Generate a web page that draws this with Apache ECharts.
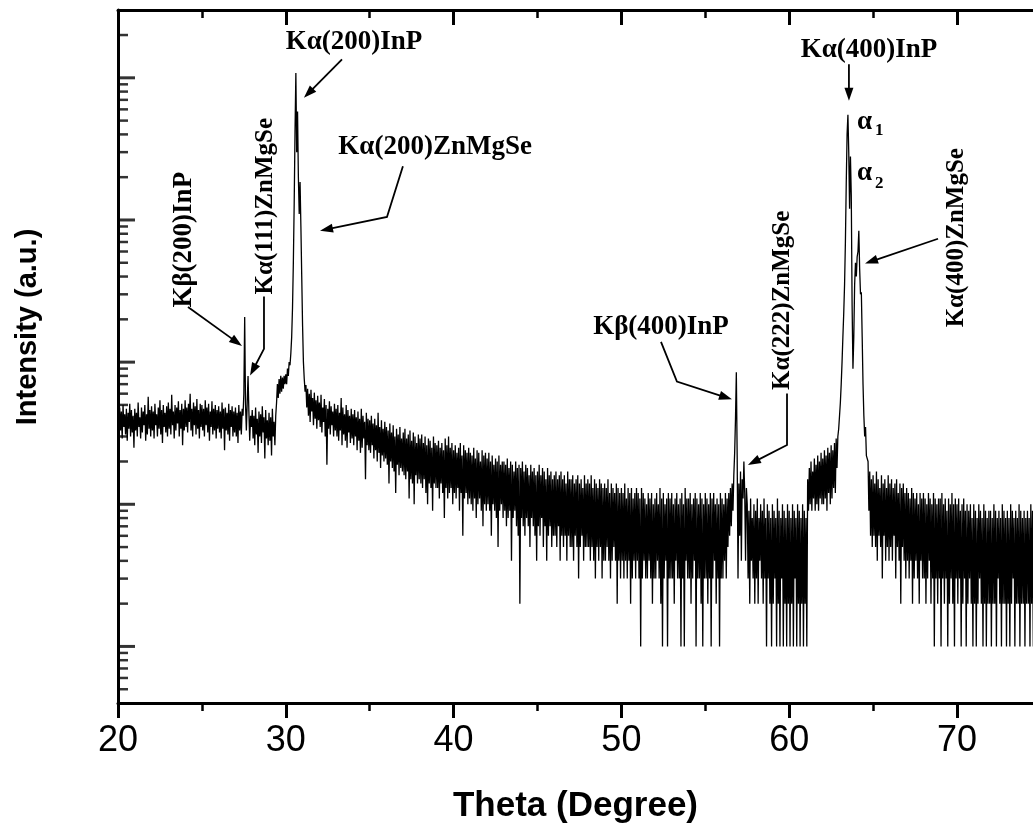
<!DOCTYPE html>
<html><head><meta charset="utf-8">
<script src="https://cdn.jsdelivr.net/npm/echarts@6/dist/echarts.min.js"></script>
<style>html,body{margin:0;padding:0;background:#fff}#c{width:1033px;height:829px}</style>
</head><body><div id="c"></div>
<script>
// ---- scan data (theta in degrees, intensity in counts) ----
// each block: start angle, step, counts
const bgLowStart = 20.0, bgLowStep = 0.05;
const bgLowCounts = [
 420,300,480,330,450,290,500,350,430,310,470,280,440,340,510,300,460,320,420,250,
 470,330,440,300,520,350,410,290,480,320,450,360,500,280,430,310,570,340,460,300,
 490,330,450,290,510,360,430,300,480,340,540,310,460,270,500,350,440,320,490,300,
 520,340,470,310,590,360,450,290,500,330,480,370,530,300,460,340,510,260,470,330,
 540,350,480,320,510,380,600,330,470,300,520,360,490,310,550,340,460,290,510,350,
 500,330,470,300,540,360,480,320,510,280,450,350,530,310,470,330,500,290,460,340,
 490,320,450,290,520,340,470,240,480,330,440,310,510,280,460,350,490,300,450,320,
 480,300,440,270,500,330,450,310,470];
const kb200Start = 27.45, kb200Step = 0.05;
const kb200Counts = [420,600,2080,500,330,520,800,450,280,420];
const preStart = 27.95, preStep = 0.05;
const preCounts = [350,
 460,290,420,260,480,310,400,230,450,300,430,270,490,320,410,210,460,290,390,260,
 440,280,410,220,470,300,380,260,420];
const ka200Start = 29.45, ka200Step = 0.05;
const ka200Counts = [520,700,560,760,600,800,620,780,650,800,700,820,700,900,800,1000,950,1150,
 1500,2400,5000,13000,42000,108000,30000,58000,20000,11000,18500,9000,4000,1800,1000];
const tailStart = 31.1, tailStep = 0.05;
const tailCounts = [760,620,690,480,650,420,600,380,640,450,560,360,610,400,540,340,580,390,
 520,350,590,320,480,380,550,300,500,190,470,340,530,310,490,360,450,300,510,330,
 470,300,500,280,440,330,560,260,480,310,430,280,500,250,460,320,420,270,470,290,
 430,260,460,300,410,240,450,280,400,230,470,250,420,290,380,150,440,260,400,240,
 390,230,420,260,370,210,400,240,360,200,440,230,350,180,390,220,340,200,380,210,
 350,190,330,140,370,200,320,180,360,170,300,120,340,190,310,160,350,180,290,170,
 320,160,340,150,290,170,310,110,330,150,280,140,320,100,300,160,270,140,310,150,
 290,140,310,130,270,150,300,120,260,100,290,140,280,130,250,90,300,140,270,130,
 260,130,280,110,250,140,270,120,240,80,290,130,260,110,300,120,250,130,270,100,
 240,120,260,110,230,130,250,90,270,120,220,60,260,110,240,120,230,100,250,110,
 230,100,220,90,250,110,210,80,240,100,230,110,200,90,240,70,220,100,230,90,
 210,100,230,90,200,60,220,100,190,90,210,80,200,50,220,90,190,100,200,80,
 200,90,190,70,210,80,180,90,200,40,190,80,170,90,200,70,180,60,190,20,
 180,80,200,70,170,60,190,80,180,70,160,50,190,80,170,70,180,60,160,40,
 170,70,190,60,160,80,180,50,170,70,150,40,180,60,160,70,170,50,150,60,
 160,60,170,50,150,70,160,40,170,60,150,50,160,60,140,40,170,60,150,50,
 150,50,160,40,140,60,150,50,160,30,140,50,150,60,130,40,160,50,140,50,
 150,50,140,40,160,50,130,40,150,30,140,50,130,40,150,50,140,30,130,40,
 140,40,130,50,150,40,120,30,140,40,130,50,120,40,140,20,130,40,120,30,
 130,40,120,30,140,40,110,30,130,40,120,20,130,30,110,40,120,30,130,40,
 120,30,110,10,130,30,120,40,110,30,100,30,120,40,110,30,120,20,100,30,
 110,30,120,40,100,30,130,20,110,10,120,30,100,40,110,10,120,30,110,30,
 120,30,100,20,110,40,120,30,100,30,110,10,120,30,100,10,130,40,110,30,
 110,30,120,20,100,30,110,40,120,10,110,30,100,30,120,20,110,10,100,30,
 120,30,110,20,100,30,120,10,110,30,120,40,100,20,110,30,100,10,120,30,
 110,30,100,40,120,30,110,50,120,60,130,70,140,90];
const kb400Start = 56.7, kb400Step = 0.05;
const kb400Counts = [160,230,400,850,220,30,140,60,170,40,150,110,200,120,40,130];
const midStart = 57.5, midStep = 0.05;
const midCounts = [100,30,90,20,110,40,80,30,100,20,
 90,30,110,20,80,40,100,30,90,20,110,30,80,10,100,30,90,20,80,10,
 100,20,90,30,80,10,110,20,90,10,80,30,100,10,90,20,80,10,100,20,
 90,10,80,20,100,10,90,30,80,10,100,20,90,10,80,20,100,10,90,20,
 80,10,150,90,180,100,200,90,170,110,210,90,190,100,220,90,200,110,230,100,
 210,100,240,110,220,90,250,120,230,100,260,110,240,130,270,120,290];
const ka400Start = 62.85, ka400Step = 0.05;
const ka400Counts = [180,300,340,420,520,700,1000,1500,2200,3500,7000,18000,40000,55000,30000,12000,
 28000,15000,2500,900,1500,3500,5000,4000,5500,6000,8400,4500,3000,3100,1500,700,420,300,350,220];
const endStart = 64.7, endStep = 0.05;
const endCounts = [200,90,170,60,150,50,
 160,60,140,50,170,40,150,60,130,50,160,30,140,60,150,40,130,50,160,40,
 140,50,150,40,130,60,140,30,150,50,120,40,140,20,130,50,140,40,120,30,
 130,40,120,30,110,40,130,20,120,30,110,40,120,30,100,20,120,40,110,30,
 120,30,110,20,100,30,120,40,110,20,100,30,120,10,110,30,100,20,110,30,
 110,10,120,30,100,20,110,30,90,10,110,20,100,30,120,20,100,10,110,30,
 100,20,110,30,90,10,100,20,110,30,90,10,100,20,90,30,100,20,80,10,
 100,20,90,10,80,20,100,30,90,20,80,10,100,20,90,10,80,20,90,20,
 90,10,80,20,100,20,90,10,80,30,90,20,80,10,100,20,90,20,80,10,
 90,20,80,10,100,20,90,30,80,10,90,20,80,20,100,10,90,20,80,20,
 90,10,80,20,90,20,80,10,100,20,90,10,80,20,90,20,80,10,90,20,
 80];

// axis ticks
const xMin = 20, xMax = 74.53, xStep = 10;
const xTickValues = [20,30,40,50,60,70];
const yMin = 4, yMax = 300000;
const yMajorTicks = [10,100,1000,10000,100000];
const yMinorTicks = [5,6,7,8,9,20,30,40,50,60,70,80,90,200,300,400,500,600,700,800,900,
 2000,3000,4000,5000,6000,7000,8000,9000,20000,30000,40000,50000,60000,70000,80000,90000,200000];

const xTitle = 'Theta (Degree)';
const yTitle = 'Intensity (a.u.)';

// ---- build the scan ----
const blocks = [
 [bgLowStart,bgLowStep,bgLowCounts],[kb200Start,kb200Step,kb200Counts],[preStart,preStep,preCounts],
 [ka200Start,ka200Step,ka200Counts],[tailStart,tailStep,tailCounts],[kb400Start,kb400Step,kb400Counts],
 [midStart,midStep,midCounts],[ka400Start,ka400Step,ka400Counts],[endStart,endStep,endCounts]
];
const scan = [];
blocks.forEach(([s,st,arr]) => arr.forEach((c,i) => scan.push([+(s + i*st).toFixed(3), c])));

// ---- annotations (anchors in data coordinates) ----
const serifH = 'bold 27px "Liberation Serif", "Times New Roman", serif';
const serifV = 'bold 25px "Liberation Serif", "Times New Roman", serif';
const notes = [
 {text:'Kα(200)InP', at:[34.06,177800], vertical:false},
 {text:'Kα(200)ZnMgSe', at:[38.9,32400], vertical:false},
 {text:'Kβ(200)InP', at:[23.93,7260], vertical:true, big:true},
 {text:'Kα(111)ZnMgSe', at:[28.82,12500], vertical:true},
 {text:'Kβ(400)InP', at:[52.36,1766], vertical:false},
 {text:'Kα(222)ZnMgSe', at:[59.63,2723], vertical:true},
 {text:'Kα(400)InP', at:[64.76,156300], vertical:false},
 {text:'Kα(400)ZnMgSe', at:[70.0,7500], vertical:true}
];
const arrows = [
 [[33.35,135000],[31.08,72300]],
 [[36.98,23900],[36.03,10500],[32.04,8400]],
 [[24.17,2440],[27.39,1300]],
 [[28.70,2900],[28.70,1240],[27.87,804]],
 [[52.36,1387],[53.31,730],[56.59,547]],
 [[59.87,601],[59.87,261],[57.54,189]],
 [[63.56,124700],[63.56,68900]],
 [[68.87,7380],[64.52,4940]]
];
const alphaNotes = [
 {main:'α', sub:'1', at:[64.04,49200], subAt:[65.11,42600]},
 {main:'α', sub:'2', at:[64.04,21300], subAt:[65.11,17900]}
];

const chart = echarts.init(document.getElementById('c'), null, {renderer:'canvas'});
const sans = '"Liberation Sans", Arial, sans-serif';
const xAxisCommon = {
 type:'value', min:xMin, max:xMax, interval:xStep,
 axisLine:{onZero:false, lineStyle:{color:'#000', width:3}},
 minorTick:{show:true, splitNumber:2, length:8, lineStyle:{color:'#000', width:2.5}},
 splitLine:{show:false}
};
const option = {
 animation:false,
 backgroundColor:'#fff',
 grid:{left:118, right:0, top:10, bottom:122, containLabel:false},
 xAxis:[
  Object.assign({}, xAxisCommon, {
   position:'bottom',
   axisTick:{inside:false, length:15, customValues:xTickValues, lineStyle:{color:'#000', width:3}},
   axisLabel:{fontSize:36, color:'#000', fontFamily:sans, margin:20, customValues:xTickValues},
   name:xTitle, nameLocation:'middle', nameGap:86,
   nameTextStyle:{fontSize:35, fontWeight:'bold', color:'#000', fontFamily:sans}
  }),
  Object.assign({}, xAxisCommon, {
   position:'top',
   axisTick:{inside:true, length:15, customValues:xTickValues, lineStyle:{color:'#000', width:3}},
   axisLabel:{show:false}
  })
 ],
 yAxis:{
  type:'log', logBase:10, min:yMin, max:yMax,
  axisLine:{onZero:false, lineStyle:{color:'#000', width:3}},
  axisTick:{show:false}, axisLabel:{show:false}, splitLine:{show:false}, minorTick:{show:false}
 },
 series:[
  {type:'line', data:scan, showSymbol:false, clip:true, silent:true,
   lineStyle:{color:'#000', width:1.3}, xAxisIndex:0, yAxisIndex:0, z:3},
  {type:'scatter', data:yMajorTicks.map(v=>[xMin,v]), symbol:'rect', symbolSize:[17,3],
   symbolOffset:[8.5,0], itemStyle:{color:'#000'}, clip:false, silent:true, z:5},
  {type:'scatter', data:yMinorTicks.map(v=>[xMin,v]), symbol:'rect', symbolSize:[10,2.5],
   symbolOffset:[5,0], itemStyle:{color:'#000'}, clip:false, silent:true, z:5}
 ]
};
chart.setOption(option);

function toPx(p){ return chart.convertToPixel({seriesIndex:0}, p); }
const g = [];
g.push({type:'text', x:28, y:327, rotation:Math.PI/2,
 style:{text:yTitle, font:'bold 29px ' + sans, fill:'#000', align:'center', verticalAlign:'middle'}});
notes.forEach(n => {
 const p = toPx(n.at);
 const font = n.big ? serifH : (n.vertical ? serifV : serifH);
 g.push({type:'text', x:p[0], y:p[1], rotation:n.vertical?Math.PI/2:0,
  style:{text:n.text, font:font, fill:'#000', align:'center', verticalAlign:'middle'}});
});
alphaNotes.forEach(a => {
 const p = toPx(a.at), q = toPx(a.subAt);
 g.push({type:'text', x:p[0], y:p[1], style:{text:a.main, font:'bold 27px "Liberation Serif", serif', fill:'#000', align:'left', verticalAlign:'middle'}});
 g.push({type:'text', x:q[0], y:q[1], style:{text:a.sub, font:'bold 17px "Liberation Serif", serif', fill:'#000', align:'left', verticalAlign:'middle'}});
});
arrows.forEach(path => {
 const pts = path.map(toPx);
 const B = pts[pts.length-1], A = pts[pts.length-2];
 const dx = B[0]-A[0], dy = B[1]-A[1], len = Math.hypot(dx,dy);
 const ux = dx/len, uy = dy/len, L = 13, W = 4.5;
 const base = [B[0]-ux*L, B[1]-uy*L];
 const linePts = pts.slice(0,-1).concat([[B[0]-ux*L*0.7, B[1]-uy*L*0.7]]);
 g.push({type:'polyline', shape:{points:linePts}, style:{stroke:'#000', lineWidth:1.8, fill:null}, z:10});
 g.push({type:'polygon', shape:{points:[B,[base[0]-uy*W, base[1]+ux*W],[base[0]+uy*W, base[1]-ux*W]]},
  style:{fill:'#000'}, z:10});
});
chart.setOption({graphic:g});
</script></body></html>
